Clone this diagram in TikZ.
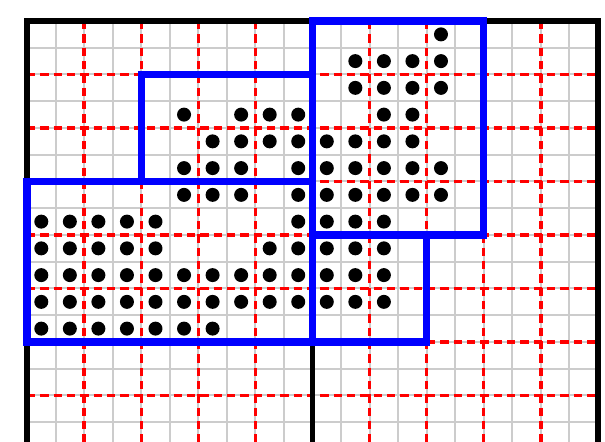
\documentclass[tikz,border=0pt]{standalone}
\usepackage{tikz}
\definecolor{grid-gray}{gray}{0.8}
\definecolor{cover-blue}{HTML}{0000FF}
\definecolor{block-red}{HTML}{FF0000}

\begin{document}
\begin{tikzpicture}[x=17.13pt,y=-16.05pt]
  \clip (-0.946,-0.785) rectangle (20.245,15.738);
  % fine grid
  \foreach \k in {1,...,19} \draw[grid-gray,line width=1.2pt] (\k,0)--(\k,16);
  \foreach \k in {1,...,15} \draw[grid-gray,line width=1.2pt] (0,\k)--(20,\k);
  % block grid
  \foreach \k in {2,4,...,18} \draw[block-red,dash pattern=on 5pt off 3pt,line width=2pt] (\k,0)--(\k,16);
  \foreach \k in {2,4,...,14} \draw[block-red,dash pattern=on 5pt off 3pt,line width=2pt] (0,\k)--(20,\k);
  \draw[line width=3.4pt] (0,16)--(0,0)--(20,0)--(20,16) (10,0)--(10,16);
  % occupied cells
  \foreach \r/\cs in {0/{14}, 1/{11,12,13,14}, 2/{11,12,13,14}, 3/{5,7,8,9,12,13},
                      4/{6,7,8,9,10,11,12,13}, 5/{5,6,7,9,10,11,12,13,14}, 6/{5,6,7,9,10,11,12,13,14},
                      7/{0,1,2,3,4,9,10,11,12}, 8/{0,1,2,3,4,8,9,10,11,12},
                      9/{0,1,2,3,4,5,6,7,8,9,10,11,12}, 10/{0,1,2,3,4,5,6,7,8,9,10,11,12}, 11/{0,1,2,3,4,5,6}}{
    \foreach \c in \cs \fill ({\c+0.5},{\r+0.5}) circle[radius=4.2pt];
  }
  % covering boxes
  \draw[cover-blue,line width=4.4pt] (4,2) rectangle (10,6);
  \draw[cover-blue,line width=4.4pt] (0,6) rectangle (10,12);
  \draw[cover-blue,line width=4.4pt] (10,0) rectangle (16,8);
  \draw[cover-blue,line width=4.4pt] (10,8) rectangle (14,12);
\end{tikzpicture}
\end{document}
